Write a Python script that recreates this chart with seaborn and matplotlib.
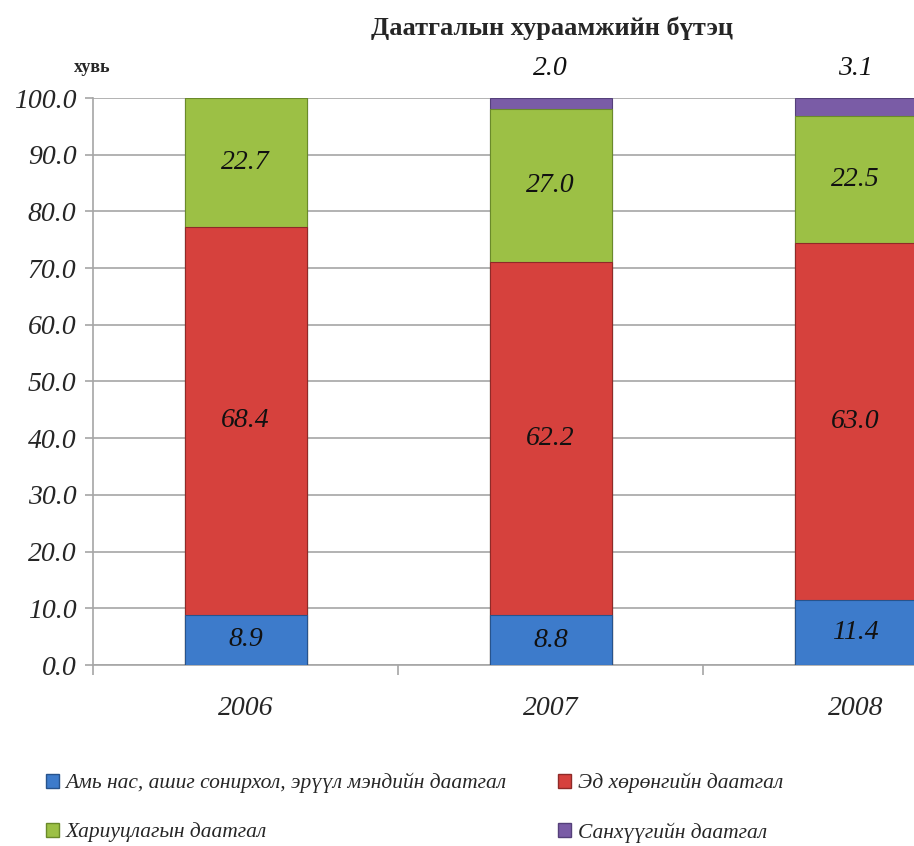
import numpy as np
import pandas as pd
import matplotlib
matplotlib.use("Agg")
import matplotlib.pyplot as plt
from matplotlib.patches import Patch
import seaborn as sns

years = ["2006", "2007", "2008"]
life = [8.9, 8.8, 11.4]
property_ins = [68.4, 62.2, 63.0]
liability = [22.7, 27.0, 22.5]
financial = [0.0, 2.0, 3.1]

series_names = [
    "Амь нас, ашиг сонирхол, эрүүл мэндийн даатгал",
    "Эд хөрөнгийн даатгал",
    "Хариуцлагын даатгал",
    "Санхүүгийн даатгал",
]
colors = ["#3d7bcb", "#d6413d", "#9cc045", "#7a5ca6"]
edges = ["#27538c", "#8f2a28", "#6a8a2a", "#55407a"]

sns.set_theme(style="white")
plt.rcParams["font.family"] = ["Liberation Serif", "DejaVu Serif"]

df = pd.DataFrame({"year": years, "life": life, "property": property_ins,
                   "liability": liability, "financial": financial})
cols = ["life", "property", "liability", "financial"]
cum = df[cols].cumsum(axis=1)

fig = plt.figure(figsize=(9.14, 8.46), dpi=100)
ax = fig.add_axes([93 / 914, 181 / 846, 915 / 914, 567 / 846])

# stacked bars: draw cumulative totals from the top layer down
for i in range(3, -1, -1):
    sns.barplot(x=df["year"], y=cum[cols[i]], color=colors[i], width=0.4,
                edgecolor=edges[i], linewidth=0.8, saturation=1, ax=ax, zorder=3)

# value labels
for j in range(len(years)):
    base = 0.0
    for i, c in enumerate(cols):
        v = df[c][j]
        if i < 3:
            ax.text(j, base + v / 2, f"{v:.1f}", ha="center", va="center",
                    fontsize=20, fontstyle="italic", color="#111111", zorder=5)
        elif v > 0:
            ax.annotate(f"{v:.1f}", (j, 100), xytext=(0, 12), textcoords="offset points",
                        ha="center", va="bottom", fontsize=20, fontstyle="italic",
                        color="#111111", annotation_clip=False)
        base += v

ax.set_ylim(0, 100)
ax.set_xlim(-0.5, 2.5)
ax.set_yticks(np.arange(0, 101, 10))
ax.set_yticklabels([f"{t:.1f}" for t in np.arange(0, 101, 10)], fontsize=20, fontstyle="italic")
ax.yaxis.grid(True, color="#a6a6a6", linewidth=1.2, zorder=0)
ax.set_axisbelow(True)
ax.tick_params(axis="y", length=6, width=1.2, color="#a6a6a6", pad=6, left=True)
ax.tick_params(axis="x", which="major", length=0, pad=22)
ax.set_xticks([-0.5, 0.5, 1.5, 2.5], minor=True)
ax.tick_params(axis="x", which="minor", length=7, width=1.2, color="#a6a6a6", bottom=True)
for lbl in ax.get_xticklabels():
    lbl.set_fontsize(20)
    lbl.set_fontstyle("italic")
ax.set_xlabel("")
ax.set_ylabel("")
for s in ["top", "right"]:
    ax.spines[s].set_visible(False)
for s in ["left", "bottom"]:
    ax.spines[s].set_color("#a6a6a6")
    ax.spines[s].set_linewidth(1.2)

fig.text(552 / 914, 1 - 28 / 846, "Даатгалын хураамжийн бүтэц", ha="center", va="center",
         fontsize=19, fontweight="bold")
fig.text(92 / 914, 1 - 68 / 846, "хувь", ha="center", va="center",
         fontsize=13, fontweight="bold")

handles = [Patch(facecolor=colors[k], edgecolor=edges[k], label=series_names[k]) for k in [0, 2, 1, 3]]
fig.legend(handles=handles, loc="upper left", bbox_to_anchor=(46 / 914, 1 - 773 / 846),
           ncol=2, frameon=False, prop={"size": 15.5, "style": "italic"},
           handlelength=0.6, handleheight=0.6, handletextpad=0.3,
           columnspacing=2.4, labelspacing=1.35, borderpad=0, borderaxespad=0)

fig.savefig("out.png", dpi=100)
